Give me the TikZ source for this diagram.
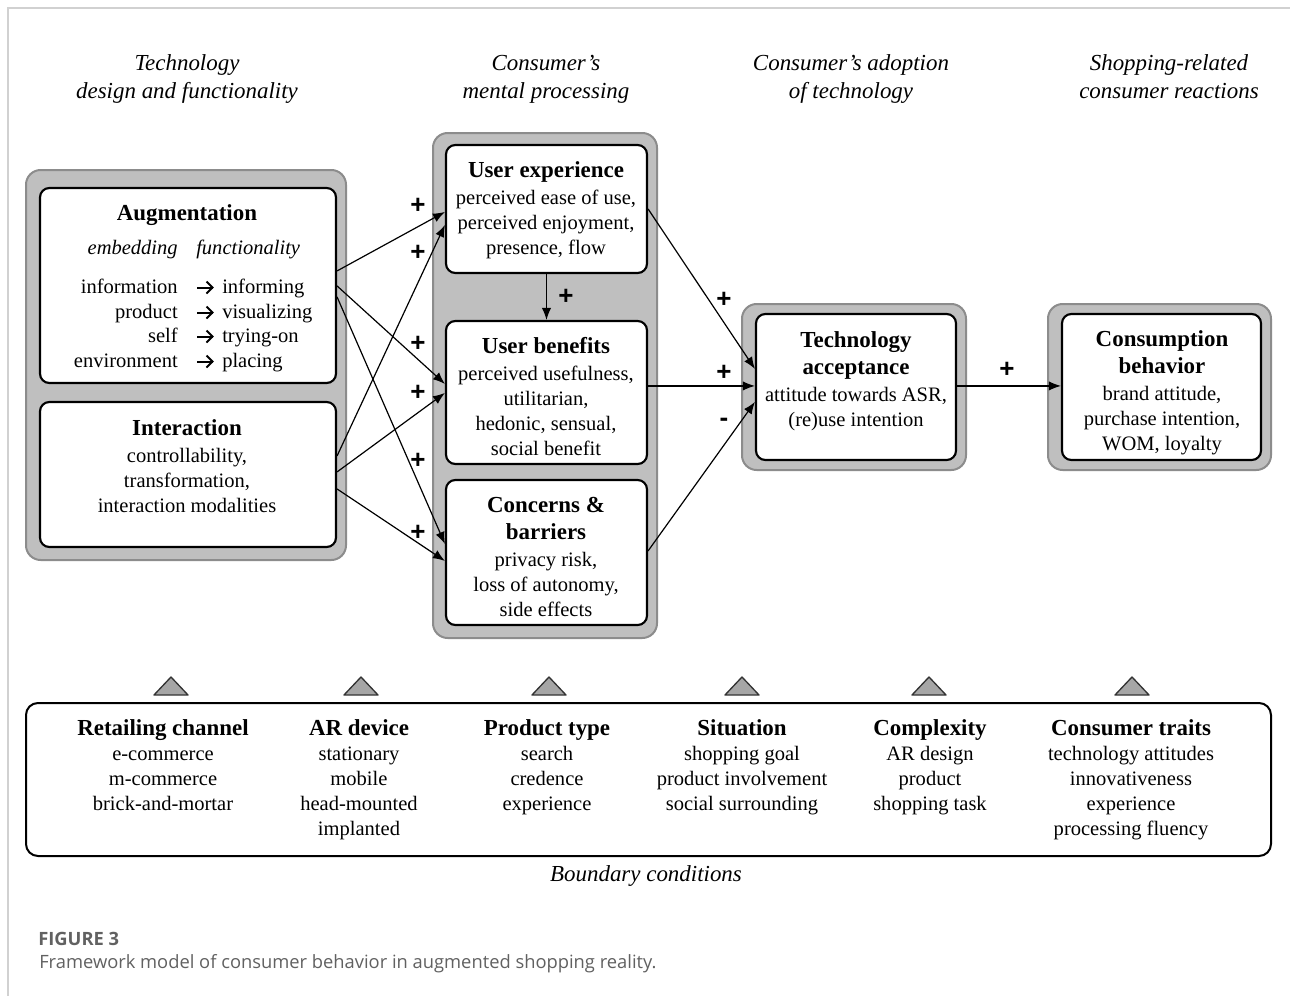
\documentclass[tikz,border=0pt]{standalone}
\usepackage{fontspec}
\setmainfont{Liberation Serif}
\setsansfont{Liberation Sans}
\newfontfamily\capfont{Open Sans}
\usetikzlibrary{arrows.meta,fit,calc}

\newcommand\boxtitle[1]{{\fontsize{17.2}{18.75}\selectfont\bfseries #1}}

\begin{document}
\begin{tikzpicture}[x=0.75pt,y=-0.75pt,
  outerbox/.style={draw=black!45,fill=black!25,line width=1.5pt,rounded corners=11pt,inner sep=0pt},
  innerbox/.style={draw=black,fill=white,line width=1.6pt,rounded corners=7pt,inner sep=0pt},
  bndbox/.style={draw=black,line width=1.5pt,rounded corners=9pt,inner sep=0pt},
  body/.style={align=center,font=\fontsize{15.4}{18.75}\selectfont,inner sep=0pt},
  hdr/.style={align=center,font=\fontsize{17.2}{21}\selectfont\itshape,inner sep=0pt},
  arr/.style={line width=0.9pt,-{Latex[length=9pt,width=7pt]}},
  maps/.style={line width=1.5pt,line cap=butt,line join=miter},
  sgn/.style={font=\sffamily\bfseries\fontsize{19.5}{19.5}\selectfont,inner sep=0pt},
  tri/.style={draw=black!80,fill=black!35,line width=1pt,line join=round}]

\useasboundingbox (0,0) rectangle (1290,996);
\fill[white] (0,0) rectangle (1290,996);
\draw[black!18,line width=1.2pt] (8,996) -- (8,8) -- (1290,8);

% column headings
\node[hdr] (h1) at (187,79) {Technology\\design and functionality};
\node[hdr] (h2) at (546,79) {Consumer's\\mental processing};
\node[hdr] (h3) at (851,79) {Consumer's adoption\\of technology};
\node[hdr] (h4) at (1169,77) {Shopping-related\\consumer reactions};

% grey frames
\node[outerbox, fit={(26,170) (346,560)}] (leftouter) {};
\node[outerbox, fit={(433,133) (657,638)}] (midouter) {};
\node[outerbox, fit={(742,304) (966,470)}] (taouter) {};
\node[outerbox, fit={(1048,304) (1271,470)}] (cbouter) {};

% white boxes
\node[innerbox, fit={(40,188) (336,383)}] (aug) {};
\node[innerbox, fit={(40,402) (336,547)}] (inter) {};
\node[innerbox, fit={(446,145) (647,273)}] (ux) {};
\node[innerbox, fit={(446,321) (647,464)}] (ub) {};
\node[innerbox, fit={(446,480) (647,625)}] (con) {};
\node[innerbox, fit={(756,314) (956,460)}] (ta) {};
\node[innerbox, fit={(1062,314) (1261,460)}] (cb) {};

% augmentation contents: embedding -> functionality
\node[inner sep=0pt] (augt) at (187,215) {\boxtitle{Augmentation}};
\node[body, anchor=base east, font=\fontsize{15.4}{18.75}\selectfont\itshape] (emb) at (178,254) {embedding};
\node[body, anchor=base west, font=\fontsize{15.4}{18.75}\selectfont\itshape] (fun) at (196,254) {functionality};
\foreach \e/\f/\y in {information/informing/287, product/visualizing/312, self/trying-on/336, environment/placing/361} {
  \node[body, anchor=base east] (e-\e) at (178,\y+6) {\e};
  \node[body, anchor=base west] (f-\e) at (222,\y+6) {\f};
  \draw[maps] (197,\y+0.5) -- (212.5,\y+0.5);
  \draw[maps] (206.5,\y-5.5) -- (212.5,\y+0.5) -- (206.5,\y+6.5);
}

\node[body] (intert) at (187,466) {\boxtitle{Interaction}\\[1.5pt]controllability,\\transformation,\\interaction modalities};
\node[body] (uxt) at (546,210) {\boxtitle{User experience}\\[1.5pt]perceived ease of use,\\perceived enjoyment,\\presence, flow};
\node[body] (ubt) at (546,397) {\boxtitle{User benefits}\\[1.5pt]perceived usefulness,\\utilitarian,\\hedonic, sensual,\\social benefit};
\node[body] (cont) at (546,557) {\boxtitle{Concerns \&}\\[1.5pt]\boxtitle{barriers}\\[1.5pt]privacy risk,\\loss of autonomy,\\side effects};
\node[body] (tat) at (856,381) {\boxtitle{Technology}\\[1.5pt]\boxtitle{acceptance}\\[1.5pt]attitude towards ASR,\\(re)use intention};
\node[body] (cbt) at (1162,393) {\boxtitle{Consumption}\\[1.5pt]\boxtitle{behavior}\\[1.5pt]brand attitude,\\purchase intention,\\WOM, loyalty};

% effects on mental processing
\draw[arr] ($(aug.north east)+(0,84)$) -- ($(ux.north west)+(0,68)$);
\draw[arr] ($(aug.north east)+(0,99)$) -- ($(ub.north west)+(0,64)$);
\draw[arr] ($(aug.north east)+(0,110)$) -- ($(con.north west)+(0,65)$);
\draw[arr] ($(inter.north east)+(0,55)$) -- ($(ux.north west)+(0,81)$);
\draw[arr] ($(inter.north east)+(0,71)$) -- ($(ub.north west)+(0,73)$);
\draw[arr] ($(inter.north east)+(0,88)$) -- ($(con.north west)+(0,82)$);
\draw[arr] (ux.south) -- (ub.north);

% effects on acceptance and behaviour
\draw[arr] ($(ux.north east)+(0,65)$) -- ($(ta.north west)+(0,56)$);
\draw[arr] ($(ub.north east)+(0,66)$) -- ($(ta.north west)+(0,73)$);
\draw[arr] ($(con.north east)+(0,72)$) -- ($(ta.north west)+(0,89)$);
\draw[arr] ($(ta.north east)+(0,73)$) -- ($(cb.north west)+(0,73)$);

% signs
\foreach \x/\y [count=\i] in {418/206, 418/253, 418/344, 418/393, 418/461, 418/533, 566/297, 724/300, 724/373, 1007/370}
  \node[sgn] (p\i) at (\x,\y) {+};
\node[sgn] (m1) at (724,422) {-};

% boundary conditions
\node[bndbox, fit={(26,703) (1271,856)}] (bnd) {};
\foreach \x in {171,361,549,742,929,1132}
  \draw[tri] (\x-17,695) -- (\x,677) -- (\x+17,695) -- cycle;
\node[body, anchor=north] (b1) at (163,719) {\boxtitle{Retailing channel}\\e-commerce\\m-commerce\\brick-and-mortar};
\node[body, anchor=north] (b2) at (359,719) {\boxtitle{AR device}\\stationary\\mobile\\head-mounted\\implanted};
\node[body, anchor=north] (b3) at (547,719) {\boxtitle{Product type}\\search\\credence\\experience};
\node[body, anchor=north] (b4) at (742,719) {\boxtitle{Situation}\\shopping goal\\product involvement\\social surrounding};
\node[body, anchor=north] (b5) at (930,719) {\boxtitle{Complexity}\\AR design\\product\\shopping task};
\node[body, anchor=north] (b6) at (1131,719) {\boxtitle{Consumer traits}\\technology attitudes\\innovativeness\\experience\\processing fluency};
\node[hdr] (bc) at (646,876) {Boundary conditions};

% caption
\node[anchor=west, inner sep=0pt, text=black!62, font=\capfont\bfseries\fontsize{13.75}{16}\selectfont] (fig) at (38,939) {FIGURE 3};
\node[anchor=west, inner sep=0pt, text=black!62, font=\capfont\fontsize{13.75}{16}\selectfont] (cap) at (39,964) {Framework model of consumer behavior in augmented shopping reality.};
\end{tikzpicture}
\end{document}
